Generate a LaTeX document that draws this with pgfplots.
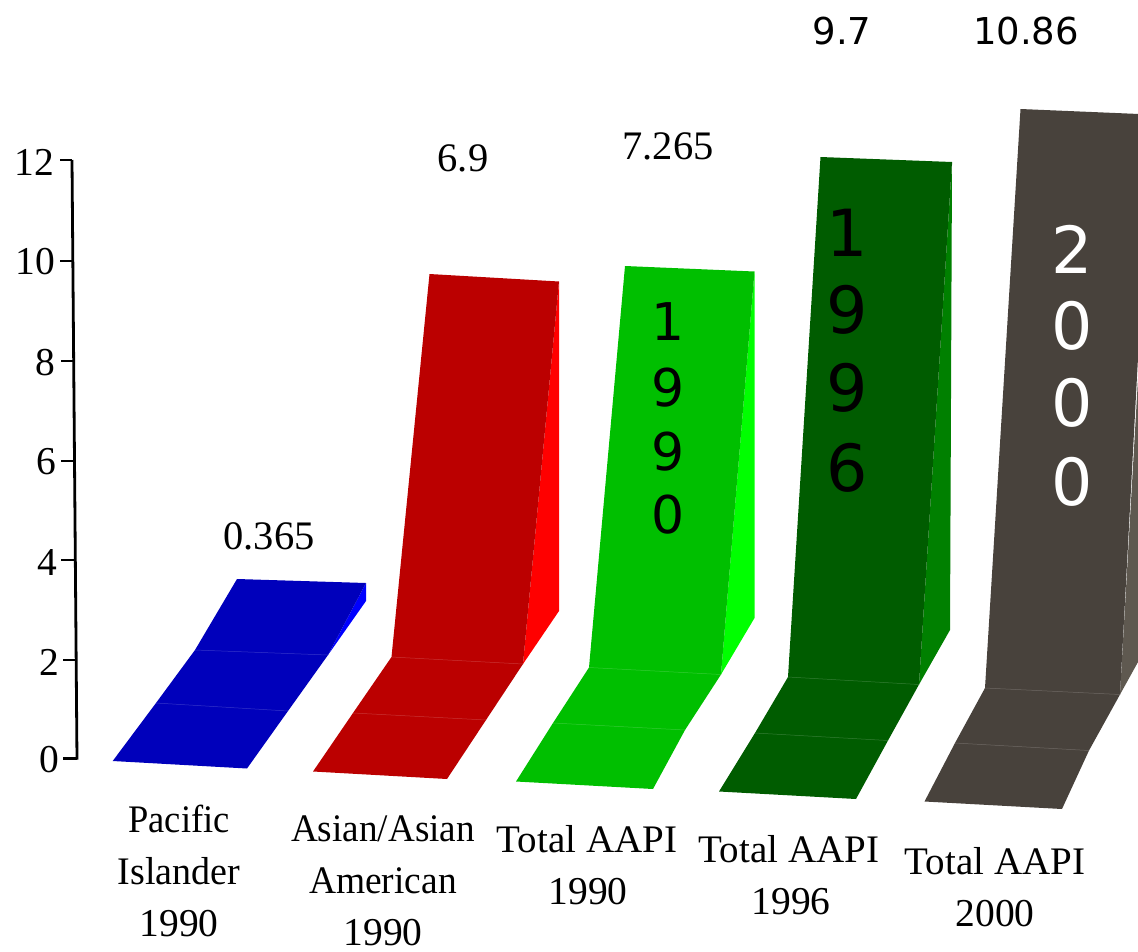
\documentclass[border=0pt]{standalone}
\usepackage{fontspec}
\setmainfont{Liberation Serif}
\newfontfamily\comic{DejaVu Sans}
\usepackage{pgfplots}
\pgfplotsset{compat=1.18}

\definecolor{blueF}{HTML}{0000BB}
\definecolor{blueS}{HTML}{0000FF}
\definecolor{redF}{HTML}{BB0000}
\definecolor{redS}{HTML}{FF0000}
\definecolor{greenF}{HTML}{00BF00}
\definecolor{greenS}{HTML}{00FF00}
\definecolor{dgreenF}{HTML}{005C00}
\definecolor{dgreenS}{HTML}{008000}
\definecolor{grayF}{HTML}{48423C}
\definecolor{grayS}{HTML}{5F5950}

\newcommand{\txt}{\fontsize{39}{39}\selectfont}
\newcommand{\num}{\fontsize{40.5}{40.5}\selectfont}
\newcommand{\tck}{\fontsize{39.5}{39.5}\selectfont}
\newcommand{\cmc}[1]{\fontsize{#1}{#1}\selectfont\comic}

\begin{document}
\begin{tikzpicture}
\useasboundingbox (0,0) rectangle (1138pt,951pt);
\begin{axis}[
    scale only axis,
    width=1138pt, height=951pt,
    xmin=0, xmax=1138,
    ymin=0, ymax=951,
    y dir=reverse,
    hide axis,
    seam/.style={line width=0.5pt},
]

% value axis
\addplot[black, line width=2.8pt] coordinates {(72,160) (77,759.7)};
\addplot[black, line width=2.4pt] coordinates {(60,160) (72,160)};
\addplot[black, line width=2.4pt] coordinates {(60,261) (73,261)};
\addplot[black, line width=2.4pt] coordinates {(61,361) (74,361)};
\addplot[black, line width=2.4pt] coordinates {(61,461) (75,461)};
\addplot[black, line width=2.4pt] coordinates {(61,560) (75,560)};
\addplot[black, line width=2.4pt] coordinates {(63,660) (77,660)};
\addplot[black, line width=2.4pt] coordinates {(63,758.5) (77,758.5)};

% Pacific Islander 1990
\addplot[fill=blueS, draw=none] coordinates {(366,583) (366,601) (328,655)} --cycle;
\addplot[fill=blueF, draw=none] coordinates {(112.7,761) (156,703) (195,650) (237,579) (366,583) (328,655) (288,711) (247,768.5)} --cycle;
\addplot[seam, blueF!80!white] coordinates {(156,703) (288,711)};
\addplot[seam, blueF!80!white] coordinates {(195,650) (328,655)};

% Asian/Asian American 1990
\addplot[fill=redS, draw=none] coordinates {(559,281.5) (559,611) (523,664)} --cycle;
\addplot[fill=redF, draw=none] coordinates {(313,771.5) (353,713) (391.5,657) (429.5,274) (559,281.5) (523,664) (486,720) (447,779)} --cycle;
\addplot[seam, redF!80!white] coordinates {(353,713) (486,720)};
\addplot[seam, redF!80!white] coordinates {(391.5,657) (523,664)};

% Total AAPI 1990
\addplot[fill=greenS, draw=none] coordinates {(754.5,271.5) (754.5,618) (721,674.5)} --cycle;
\addplot[fill=greenF, draw=none] coordinates {(516,781.5) (553,723) (589,667.5) (625,266) (754.5,271.5) (721,674.5) (685,730) (653,789)} --cycle;
\addplot[seam, greenF!80!white] coordinates {(553,723) (685,730)};
\addplot[seam, greenF!80!white] coordinates {(589,667.5) (721,674.5)};

% Total AAPI 1996
\addplot[fill=dgreenS, draw=none] coordinates {(952,162) (950,630) (919,684.5)} --cycle;
\addplot[fill=dgreenF, draw=none] coordinates {(719,791.5) (755,733) (788,677) (820.5,157) (952,162) (919,684.5) (888,740.5) (856,799)} --cycle;
\addplot[seam, dgreenF!80!white] coordinates {(755,733) (888,740.5)};
\addplot[seam, dgreenF!80!white] coordinates {(788,677) (919,684.5)};

% Total AAPI 2000, runs off the right edge
\addplot[fill=grayS, draw=none] coordinates {(1153,115) (1153,635) (1120,694.5)} --cycle;
\addplot[fill=grayF, draw=none] coordinates {(924.5,801.5) (955,743) (985,688) (1020.5,109) (1151,114.5) (1120,694.5) (1089,750.5) (1062,809)} --cycle;
\addplot[seam, grayF!80!white] coordinates {(955,743) (1089,750.5)};
\addplot[seam, grayF!80!white] coordinates {(985,688) (1120,694.5)};

% tick labels
\node[anchor=east, inner sep=0pt, font=\tck] at (axis cs:54.5,162) {12};
\node[anchor=east, inner sep=0pt, font=\tck] at (axis cs:55,262) {10};
\node[anchor=east, inner sep=0pt, font=\tck] at (axis cs:55.5,363) {8};
\node[anchor=east, inner sep=0pt, font=\tck] at (axis cs:56,462) {6};
\node[anchor=east, inner sep=0pt, font=\tck] at (axis cs:57,562) {4};
\node[anchor=east, inner sep=0pt, font=\tck] at (axis cs:59,662) {2};
\node[anchor=east, inner sep=0pt, font=\tck] at (axis cs:59,760) {0};

% value labels
\node[inner sep=0pt, font=\num] at (axis cs:269,536) {0.365};
\node[inner sep=0pt, font=\num] at (axis cs:463,158) {6.9};
\node[inner sep=0pt, font=\num] at (axis cs:668,146) {7.265};
\node[inner sep=0pt, font=\cmc{37}] at (axis cs:842,31) {9.7};
\node[inner sep=0pt, font=\cmc{37}] at (axis cs:1026,31) {10.86};

% category labels
\node[inner sep=0pt, xscale=.935, transform shape, font=\txt] at (axis cs:179,819) {Pacific};
\node[inner sep=0pt, xscale=.975, transform shape, font=\txt] at (axis cs:179,871) {Islander};
\node[inner sep=0pt, font=\tck] at (axis cs:179,924) {1990};
\node[inner sep=0pt, xscale=.953, transform shape, font=\txt] at (axis cs:383,829) {Asian/Asian};
\node[inner sep=0pt, xscale=.96, transform shape, font=\txt] at (axis cs:383,881) {American};
\node[inner sep=0pt, font=\tck] at (axis cs:383,933) {1990};
\node[inner sep=0pt, font=\txt] at (axis cs:587,839) {Total AAPI};
\node[inner sep=0pt, font=\tck] at (axis cs:588,892) {1990};
\node[inner sep=0pt, font=\txt] at (axis cs:789,849) {Total AAPI};
\node[inner sep=0pt, font=\tck] at (axis cs:791,902) {1996};
\node[inner sep=0pt, font=\txt] at (axis cs:995,861) {Total AAPI};
\node[inner sep=0pt, font=\tck] at (axis cs:995,914) {2000};

% years running down the bars
\node[font=\cmc{52}] at (axis cs:668,322) {1};
\node[font=\cmc{52}] at (axis cs:668,388) {9};
\node[font=\cmc{52}] at (axis cs:668,452) {9};
\node[font=\cmc{52}] at (axis cs:668,515) {0};
\node[font=\cmc{65}] at (axis cs:847,233) {1};
\node[font=\cmc{65}] at (axis cs:847,310) {9};
\node[font=\cmc{65}] at (axis cs:847,388) {9};
\node[font=\cmc{65}] at (axis cs:847,468) {6};
\node[font=\cmc{65}, white] at (axis cs:1072,249) {2};
\node[font=\cmc{65}, white] at (axis cs:1072,326) {0};
\node[font=\cmc{65}, white] at (axis cs:1072,403) {0};
\node[font=\cmc{65}, white] at (axis cs:1072,482) {0};

\end{axis}
\end{tikzpicture}
\end{document}
